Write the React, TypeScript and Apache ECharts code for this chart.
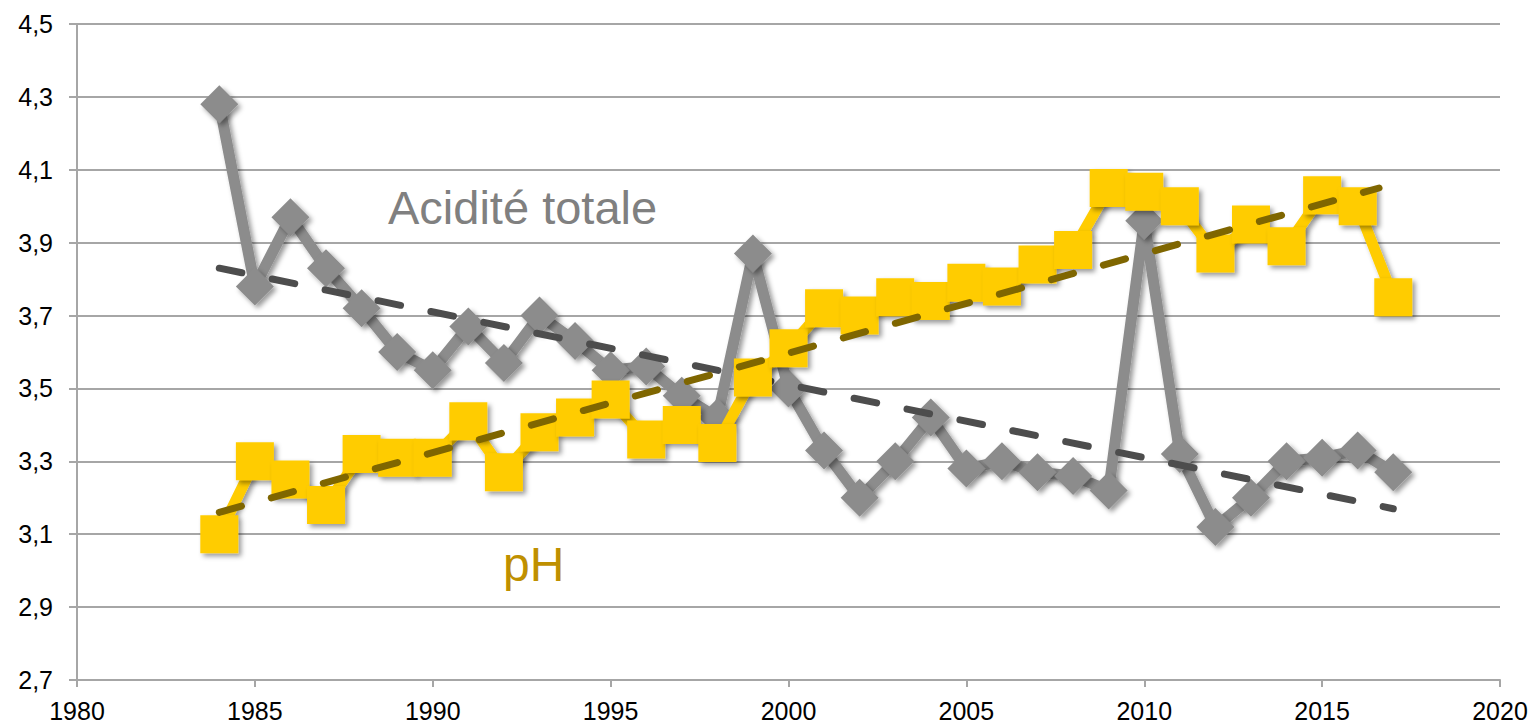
import React, { useEffect, useRef } from "react";
import * as echarts from "echarts";

const years = [1984, 1985, 1986, 1987, 1988, 1989, 1990, 1991, 1992, 1993, 1994, 1995, 1996, 1997, 1998, 1999, 2000, 2001, 2002, 2003, 2004, 2005, 2006, 2007, 2008, 2009, 2010, 2011, 2012, 2013, 2014, 2015, 2016, 2017];
const acidite = [4.28, 3.78, 3.97, 3.83, 3.72, 3.60, 3.55, 3.67, 3.57, 3.70, 3.63, 3.55, 3.56, 3.48, 3.42, 3.87, 3.50, 3.33, 3.20, 3.30, 3.42, 3.28, 3.30, 3.27, 3.26, 3.22, 3.96, 3.32, 3.12, 3.20, 3.30, 3.31, 3.33, 3.27];
const ph = [3.10, 3.30, 3.25, 3.18, 3.32, 3.31, 3.31, 3.41, 3.27, 3.38, 3.42, 3.47, 3.36, 3.40, 3.35, 3.53, 3.61, 3.72, 3.70, 3.75, 3.74, 3.79, 3.78, 3.84, 3.88, 4.05, 4.04, 4.00, 3.87, 3.95, 3.89, 4.03, 4.00, 3.75];
const trendYears = [1984, 2017];
const aciditeTrend = [3.83, 3.17];
const phTrendYears = [1984, 2016.6];
const phTrend = [3.16, 4.05];
const xTicks = { min: 1980, max: 2020, interval: 5 };
const yTicks = { min: 2.7, max: 4.5, interval: 0.2 };

const FONT = "'Liberation Sans', Arial, sans-serif";
const AXIS_GRAY = "#A6A6A6";

export default function App() {
  const ref = useRef<HTMLDivElement>(null);
  useEffect(() => {
    if (!ref.current) return;
    const chart = echarts.init(ref.current, undefined, { renderer: "svg" });
    const pair = (xs: number[], ys: number[]) => xs.map((x, i) => [x, ys[i]]);
    const shadow = { shadowBlur: 5, shadowColor: "rgba(0,0,0,0.4)", shadowOffsetX: 3, shadowOffsetY: 3 };
    chart.setOption({
      animation: false,
      backgroundColor: "#ffffff",
      grid: { left: 77, right: 33, top: 24, bottom: 48, containLabel: false },
      xAxis: {
        type: "value",
        min: xTicks.min,
        max: xTicks.max,
        interval: xTicks.interval,
        axisLine: { show: true, lineStyle: { color: AXIS_GRAY, width: 2 } },
        axisTick: { show: true, length: 7, lineStyle: { color: AXIS_GRAY, width: 2 } },
        axisLabel: { color: "#000", fontFamily: FONT, fontSize: 25, margin: 18, formatter: (v: number) => String(v) },
        splitLine: { show: false },
      },
      yAxis: {
        type: "value",
        min: yTicks.min,
        max: yTicks.max,
        interval: yTicks.interval,
        axisLine: { show: true, lineStyle: { color: AXIS_GRAY, width: 2 } },
        axisTick: { show: true, length: 8, lineStyle: { color: AXIS_GRAY, width: 2 } },
        axisLabel: { color: "#000", fontFamily: FONT, fontSize: 25, margin: 24, formatter: (v: number) => v.toFixed(1).replace(".", ",") },
        splitLine: { show: true, lineStyle: { color: AXIS_GRAY, width: 2 } },
      },
      series: [
        {
          name: "Acidité totale",
          type: "line",
          data: pair(years, acidite),
          symbol: "diamond",
          symbolSize: 38,
          lineStyle: { color: "#8C8C8C", width: 11, ...shadow },
          itemStyle: { color: "#8C8C8C", ...shadow },
          z: 2,
        },
        {
          name: "Tendance acidité",
          type: "line",
          data: pair(trendYears, aciditeTrend),
          symbol: "none",
          lineStyle: { color: "#4D4D4D", width: 7, type: [23, 31], cap: "round" },
          z: 3,
        },
        {
          name: "pH",
          type: "line",
          data: pair(years, ph),
          symbol: "rect",
          symbolSize: 38,
          lineStyle: { color: "#FFCC00", width: 11, ...shadow },
          itemStyle: { color: "#FFCC00", ...shadow },
          z: 4,
        },
        {
          name: "Tendance pH",
          type: "line",
          data: pair(phTrendYears, phTrend),
          symbol: "none",
          lineStyle: { color: "#7F6600", width: 7, type: [23, 31], cap: "round" },
          z: 5,
        },
      ],
      graphic: [
        {
          type: "text",
          left: 388,
          top: 184,
          z: 10,
          style: { text: "Acidité totale", fill: "#808080", font: `47px ${FONT}` },
        },
        {
          type: "text",
          left: 503,
          top: 540,
          z: 10,
          style: { text: "pH", fill: "#BF9000", font: `48px ${FONT}` },
        },
      ],
    });
    return () => chart.dispose();
  }, []);
  return <div ref={ref} style={{ position: "fixed", left: 0, top: 0, width: 1533, height: 728 }} />;
}
